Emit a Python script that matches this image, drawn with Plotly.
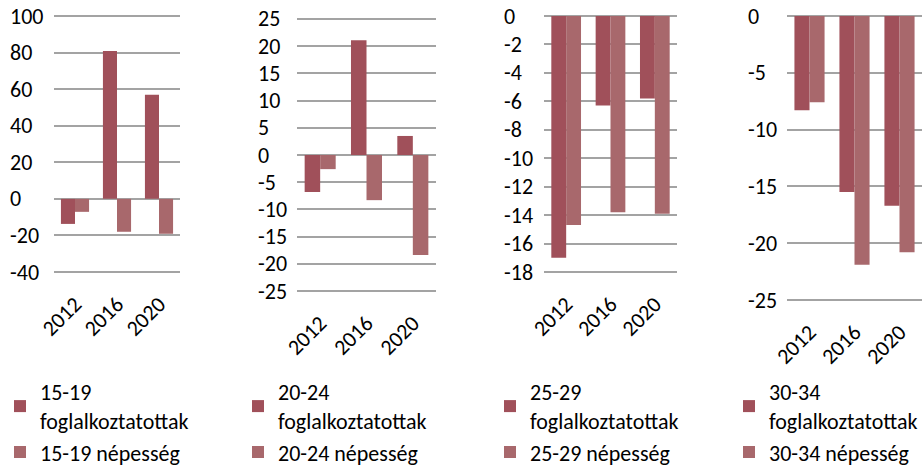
import plotly.graph_objects as go

W, H = 923, 468

years = ["2012", "2016", "2020"]

# Percentage change by age group: employed vs. population
groups = ["15-19", "20-24", "25-29", "30-34"]
employed = {
    "15-19": [-13.7, 80.9, 56.9],
    "20-24": [-6.8, 21.1, 3.5],
    "25-29": [-17.0, -6.3, -5.8],
    "30-34": [-8.3, -15.5, -16.7],
}
population = {
    "15-19": [-7.1, -18.0, -19.1],
    "20-24": [-2.6, -8.3, -18.4],
    "25-29": [-14.7, -13.8, -13.9],
    "30-34": [-7.6, -21.9, -20.8],
}
y_ranges = {
    "15-19": (-40, 100, 20),
    "20-24": (-25, 25, 5),
    "25-29": (-18, 0, 2),
    "30-34": (-25, 0, 5),
}

label_employed = "foglalkoztatottak"
label_population = "népesség"

DARK = "#A0505A"
LIGHT = "#A8686C"
GRID = "#A3A3A3"
TEXT = "#000000"
FONT = "Carlito, Calibri, Lato, sans-serif"
FS = 22
PAD = 2  # px of breathing room so the end gridlines are drawn

# panel geometry in pixels: plot-area left/right, top/bottom, tick-label left, legend left
panels = [
    dict(x0=54, x1=180, y0=16, y1=272, lab=8, leg=0),
    dict(x0=297, x1=436, y0=19, y1=291, lab=256, leg=238),
    dict(x0=544, x1=677, y0=16, y1=272, lab=502, leg=490),
    dict(x0=787, x1=922, y0=16, y1=300, lab=746, leg=729),
]

fig = go.Figure()
annotations = []

for i, (g, p) in enumerate(zip(groups, panels)):
    n = "" if i == 0 else str(i + 1)
    leg = "legend" + n
    fig.add_trace(go.Bar(
        x=years, y=employed[g], name=f"{g}<br>{label_employed}",
        marker=dict(color=DARK, line=dict(width=0)),
        xaxis="x" + n, yaxis="y" + n, legend=leg,
    ))
    fig.add_trace(go.Bar(
        x=years, y=population[g], name=f"{g} {label_population}",
        marker=dict(color=LIGHT, line=dict(width=0)),
        xaxis="x" + n, yaxis="y" + n, legend=leg,
    ))

    lo, hi, step = y_ranges[g]
    ticks = list(range(lo, hi + 1, step))
    per_px = (hi - lo) / (p["y1"] - p["y0"])
    fig.update_layout({
        "xaxis" + n: dict(
            domain=[p["x0"] / W, p["x1"] / W], anchor="y" + n,
            type="category", range=[-0.5, 2.5],
            showline=False, ticks="", tickangle=-45,
            tickfont=dict(family=FONT, size=FS, color=TEXT),
            ticklabelstandoff=12, fixedrange=True, automargin=False,
        ),
        "yaxis" + n: dict(
            domain=[1 - (p["y1"] + PAD) / H, 1 - (p["y0"] - PAD) / H],
            anchor="x" + n,
            range=[lo - PAD * per_px, hi + PAD * per_px],
            tickvals=ticks, showticklabels=False,
            showgrid=True, gridcolor=GRID, gridwidth=2,
            zeroline=False, showline=False, ticks="", fixedrange=True,
            automargin=False,
        ),
        leg: dict(
            x=p["leg"] / W, xanchor="left", xref="container",
            y=1 - 371 / H, yanchor="top", yref="container",
            orientation="v", bgcolor="rgba(0,0,0,0)",
            font=dict(family=FONT, size=FS, color=TEXT),
            itemclick=False, itemdoubleclick=False, tracegroupgap=0,
        ),
    })
    # left-aligned value labels on the vertical axis
    for t in ticks:
        annotations.append(dict(
            x=p["lab"] / W, xref="paper", xanchor="left",
            y=t, yref="y" + n, yanchor="middle",
            text=str(t), showarrow=False,
            font=dict(family=FONT, size=FS, color=TEXT),
        ))

fig.update_layout(
    width=W, height=H,
    margin=dict(l=0, r=0, t=0, b=0, autoexpand=False),
    paper_bgcolor="white", plot_bgcolor="white",
    barmode="group", bargap=0.33, bargroupgap=0,
    annotations=annotations,
    showlegend=True,
    font=dict(family=FONT, size=FS, color=TEXT),
)

fig.write_html("out.html")
